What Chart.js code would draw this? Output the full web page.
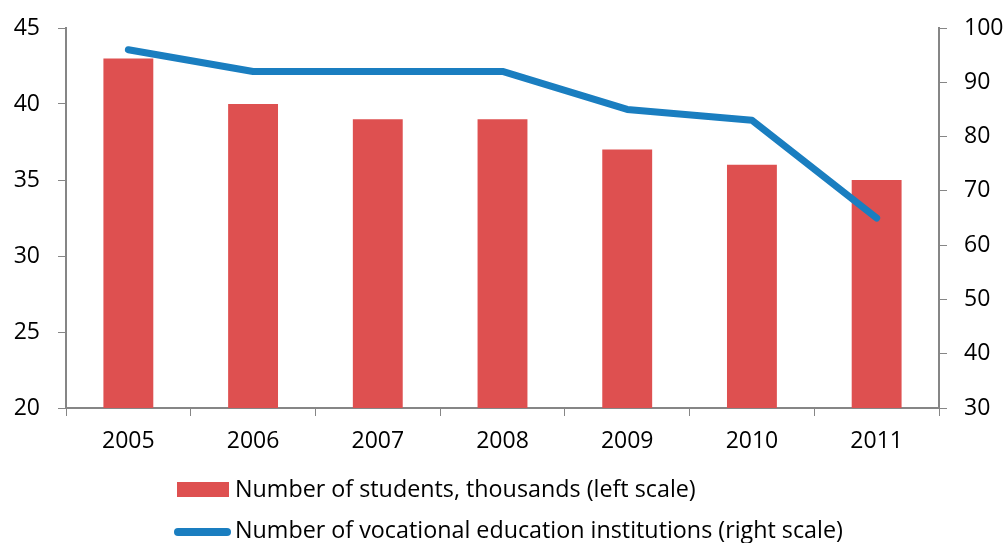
<!DOCTYPE html>
<html lang="en">
<head>
  <meta charset="UTF-8">
  <title>Students and vocational institutions</title>
  <script src="https://cdn.jsdelivr.net/npm/chart.js"></script>
  <style>
    html, body { margin: 0; padding: 0; background: #fff; }
    #wrap { width: 1008px; height: 543px; }
  </style>
</head>
<body>
  <div id="wrap"><canvas id="chart"></canvas></div>

  <script>
    const years = ["2005", "2006", "2007", "2008", "2009", "2010", "2011"];
    const students = [43, 40, 39, 39, 37, 36, 35];
    const institutions = [96, 92, 92, 92, 85, 83, 65];

    const studentsLabel = "Number of students, thousands (left scale)";
    const institutionsLabel = "Number of vocational education institutions (right scale)";

    const RED = "#DE5050";
    const BLUE = "#1A7EC0";
    const AXIS = "#868686";
    const FONT = "'Open Sans', sans-serif";

    Chart.defaults.font.family = FONT;
    Chart.defaults.font.size = 23;
    Chart.defaults.color = "#000";

    // hand-drawn legend under the axis, both rows left-aligned like the original
    const bottomLegend = {
      id: "bottomLegend",
      afterDraw(chart) {
        const c = chart.ctx;
        const sets = chart.data.datasets;
        c.save();
        c.font = "23.3px " + FONT;
        c.textBaseline = "middle";

        // bar item
        c.fillStyle = sets[1].backgroundColor;
        c.fillRect(177, 482, 52, 15);
        c.fillStyle = "#000";
        c.fillText(sets[1].label, 235, 490);

        // line item
        c.strokeStyle = sets[0].borderColor;
        c.lineWidth = 8;
        c.lineCap = "round";
        c.beginPath();
        c.moveTo(178, 532);
        c.lineTo(227, 532);
        c.stroke();
        c.fillText(sets[0].label, 235, 531);
        c.restore();
      }
    };

    // pin the vertical axes: fixed width, no extra room for half labels
    function pinY(width) {
      return s => { s.width = width; s.paddingTop = 0; s.paddingBottom = 0; };
    }

    new Chart(document.getElementById("chart"), {
      data: {
        labels: years,
        datasets: [
          {
            type: "line",
            label: institutionsLabel,
            data: institutions,
            yAxisID: "y1",
            borderColor: BLUE,
            borderWidth: 7,
            borderCapStyle: "round",
            borderJoinStyle: "round",
            pointRadius: 0,
            tension: 0,
            order: 0
          },
          {
            type: "bar",
            label: studentsLabel,
            data: students,
            yAxisID: "y",
            backgroundColor: RED,
            categoryPercentage: 1,
            barPercentage: 0.4,
            order: 1
          }
        ]
      },
      options: {
        responsive: true,
        maintainAspectRatio: false,
        animation: false,
        layout: { padding: { top: 28, left: 0, right: 0, bottom: 0 } },
        plugins: { legend: { display: false }, tooltip: { enabled: false } },
        scales: {
          x: {
            offset: true,
            grid: { offset: true, drawOnChartArea: false, tickLength: 8, color: AXIS },
            border: { color: AXIS, width: 2 },
            ticks: { padding: 12 },
            afterFit(s) { s.height = 135; s.paddingLeft = 0; s.paddingRight = 0; }
          },
          y: {
            position: "left",
            min: 20, max: 45,
            ticks: { stepSize: 5, padding: 18 },
            grid: { drawOnChartArea: false, tickLength: 8, color: AXIS },
            border: { color: AXIS, width: 2 },
            afterFit: pinY(66)
          },
          y1: {
            position: "right",
            min: 30, max: 100,
            ticks: { stepSize: 10, padding: 17 },
            grid: { drawOnChartArea: false, tickLength: 8, color: AXIS },
            border: { color: AXIS, width: 2 },
            afterFit: pinY(69)
          }
        }
      },
      plugins: [bottomLegend]
    });
  </script>
</body>
</html>
